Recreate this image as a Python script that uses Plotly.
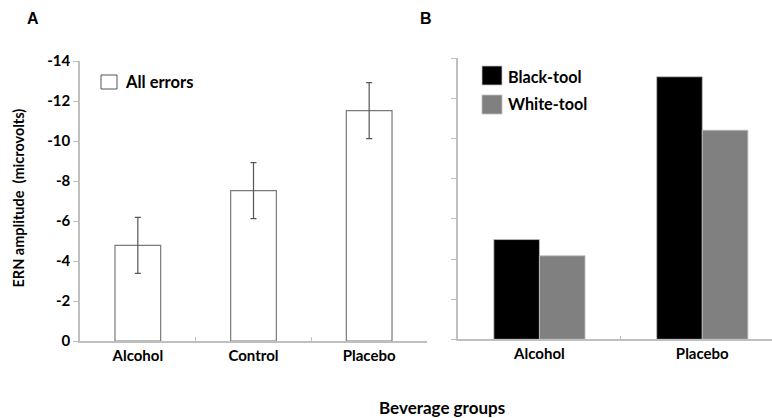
import plotly.graph_objects as go

# ---- data ----
groups_a = ["Alcohol", "Control", "Placebo"]
all_errors = [-4.78, -7.52, -11.52]
all_errors_se = [1.4, 1.4, 1.4]

groups_b = ["Alcohol", "Placebo"]
black_tool = [-4.97, -13.08]
white_tool = [-4.16, -10.42]

ytick_vals = [0, -2, -4, -6, -8, -10, -12, -14]
ytick_text = ["0", "-2", "-4", "-6", "-8", "-10", "-12", "-14"]

W, H = 772, 418
FONT = "Lato"
AX = "#bfbfbf"


def px_x(p):
    return p / W


def px_y(p):
    return 1 - p / H


fig = go.Figure()

fig.add_trace(go.Bar(
    x=groups_a, y=all_errors, name="All errors",
    width=0.395,
    marker=dict(color="white", line=dict(color="#7a7a7a", width=1.2)),
    error_y=dict(type="data", array=all_errors_se, color="#555555",
                 thickness=1.2, width=3),
    xaxis="x", yaxis="y", showlegend=False,
))

fig.add_trace(go.Bar(
    x=groups_b, y=black_tool, name="Black-tool",
    width=0.28, offset=-0.28,
    marker=dict(color="black", line=dict(color="#c0c0c0", width=0.8)),
    xaxis="x2", yaxis="y2", showlegend=False,
))
fig.add_trace(go.Bar(
    x=groups_b, y=white_tool, name="White-tool",
    width=0.28, offset=0,
    marker=dict(color="#808080", line=dict(color="#c0c0c0", width=0.8)),
    xaxis="x2", yaxis="y2", showlegend=False,
))

tickfont = dict(family=FONT, size=15, color="black", weight="bold")
common = dict(showline=True, linecolor=AX, linewidth=1.5, tickcolor=AX,
              showgrid=False, zeroline=False, automargin=False)

fig.update_layout(
    template="none",
    width=W, height=H,
    margin=dict(l=0, r=0, t=0, b=0, pad=0, autoexpand=False),
    plot_bgcolor="white", paper_bgcolor="white",
    barmode="overlay",
    xaxis=dict(
        domain=[px_x(80), px_x(427)], anchor="y",
        type="category", range=[-0.5, 2.5],
        ticks="inside", tickson="boundaries", ticklen=4,
        tickfont=tickfont, **common,
    ),
    yaxis=dict(
        domain=[px_y(341), px_y(61)], anchor="x",
        range=[0, -14], tickvals=ytick_vals, ticktext=ytick_text,
        ticks="outside", ticklen=5, tickfont=tickfont, **common,
    ),
    xaxis2=dict(
        domain=[px_x(458), 1.0], anchor="y2",
        type="category", range=[-0.5, 1.428],
        ticks="inside", tickson="boundaries", ticklen=4,
        tickfont=tickfont, **common,
    ),
    yaxis2=dict(
        domain=[px_y(339.3), px_y(58.3)], anchor="x2",
        range=[0, -14], tickvals=ytick_vals, showticklabels=False,
        ticks="outside", ticklen=5, **common,
    ),
    font=dict(family=FONT, color="black"),
)


def label(text, xp, yp, size, xanchor="center", angle=0, family=FONT):
    fig.add_annotation(x=px_x(xp), y=px_y(yp), xref="paper", yref="paper",
                       text=text, showarrow=False, textangle=angle,
                       xanchor=xanchor, yanchor="middle",
                       font=dict(family=family, size=size, weight="bold",
                                 color="black"))


# panel letters
label("A", 33, 19, 16, family="Liberation Sans")
label("B", 426, 19, 16, family="Liberation Sans")

# axis titles
label("ERN amplitude&nbsp; (microvolts)", 18, 198.5, 14.5, angle=-90)
label("Beverage groups", 442, 407, 17)

# legend swatches (drawn)
fig.add_shape(type="rect", xref="paper", yref="paper",
              x0=px_x(101), x1=px_x(117), y0=px_y(89), y1=px_y(75),
              line=dict(color="#555555", width=1), fillcolor="white")
label("All errors", 123, 82, 16.5, xanchor="left")

fig.add_shape(type="rect", xref="paper", yref="paper",
              x0=px_x(482), x1=px_x(502), y0=px_y(85), y1=px_y(66),
              line=dict(color="#c0c0c0", width=0.8), fillcolor="black")
label("Black-tool", 506, 76, 16.2, xanchor="left")
fig.add_shape(type="rect", xref="paper", yref="paper",
              x0=px_x(482), x1=px_x(502), y0=px_y(114), y1=px_y(95),
              line=dict(color="#c0c0c0", width=0.8), fillcolor="#808080")
label("White-tool", 506, 104, 16.2, xanchor="left")

fig.write_html(
    "out.html",
    config={"displayModeBar": False},
    post_script=(
        "document.body.style.margin='0';"
        "document.body.style.padding='0';"
        "document.documentElement.style.overflow='hidden';"
    ),
)
